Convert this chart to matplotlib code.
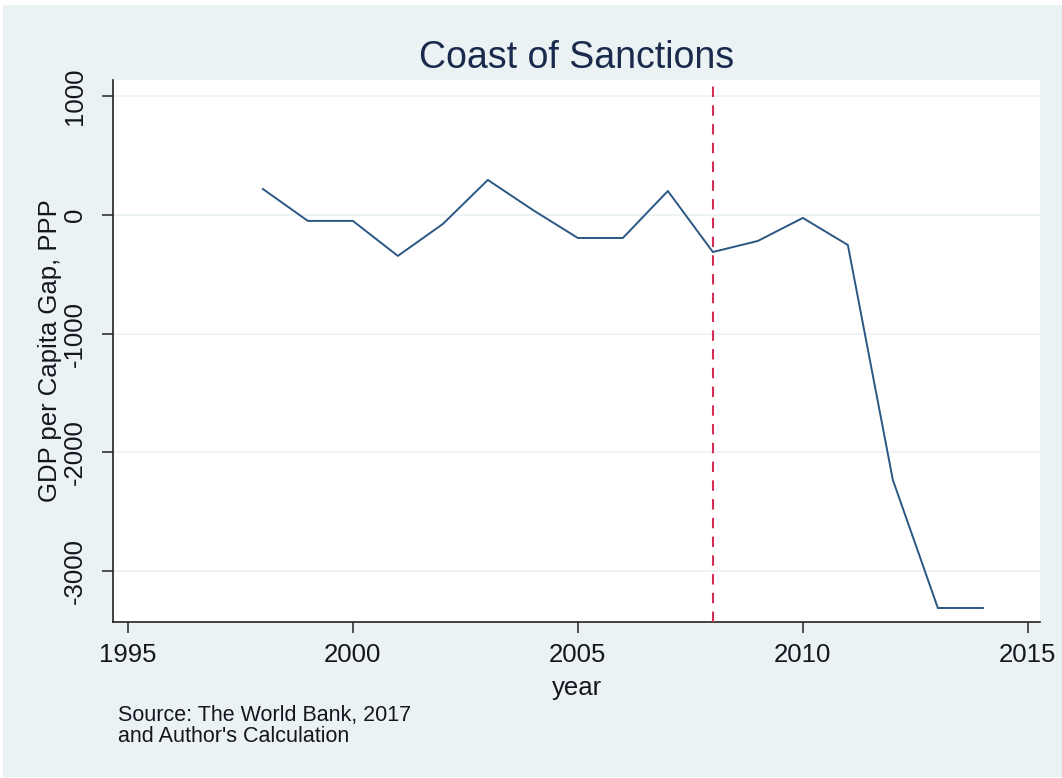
import matplotlib.pyplot as plt
from matplotlib.patches import Rectangle

years = [1998, 1999, 2000, 2001, 2002, 2003, 2004, 2005, 2006, 2007,
         2008, 2009, 2010, 2011, 2012, 2013, 2014]
gap = [219, -50, -50, -345, -76, 295, 42, -194, -194, 202,
       -312, -219, -25, -253, -2232, -3311, -3311]
sanction_year = 2008
xticks = [1995, 2000, 2005, 2010, 2015]
yticks = [1000, 0, -1000, -2000, -3000]

font = ['Liberation Sans Narrow', 'Liberation Sans', 'DejaVu Sans']
plt.rcParams['font.family'] = font
plt.rcParams['axes.unicode_minus'] = False

W, H = 1062, 778
fig = plt.figure(figsize=(W / 100, H / 100), dpi=100, facecolor='white')
# stata-like light background panel with a thin white margin
fig.patches.append(Rectangle((3 / W, 1 / H), 1 - 3 / W, 1 - 6 / H,
                             transform=fig.transFigure, facecolor='#EAF2F3',
                             edgecolor='none', zorder=-10))

ax = fig.add_axes([113 / W, 1 - 622 / H, (1040 - 113) / W, (622 - 80) / H])
ax.set_facecolor('white')

ax.plot(years, gap, color='#2A5783', linewidth=1.4, zorder=3)
ax.axvline(sanction_year, color='#D62D56', linestyle=(0, (5, 4)),
           linewidth=1.5, zorder=4)

ax.set_xlim(1994.67, 2015.27)
ax.set_ylim(-3429, 1137)
ax.set_xticks(xticks)
ax.set_yticks(yticks)
ax.grid(axis='y', color='#EAF2F3', linewidth=1.2, zorder=1)
ax.set_axisbelow(True)

for s in ['top', 'right']:
    ax.spines[s].set_visible(False)
for s in ['left', 'bottom']:
    ax.spines[s].set_color('#222222')
    ax.spines[s].set_linewidth(1.2)

ax.tick_params(axis='both', length=8, width=1.2, color='#333333',
               labelcolor='#151520', labelsize=18.5)
ax.tick_params(axis='x', pad=7)
ax.tick_params(axis='y', pad=11)
for lbl in ax.get_yticklabels():
    lbl.set_rotation(90)
    lbl.set_va('center')

ax.set_title('Coast of Sanctions', fontsize=27, color='#1A2A4C', pad=9)
ax.set_xlabel('year', fontsize=18.5, color='#151520')
ax.xaxis.set_label_coords(0.5, -0.122)
ax.set_ylabel('GDP per Capita Gap, PPP', fontsize=18.5, color='#151520')
ax.yaxis.set_label_coords(-0.068, 0.5)
ax.yaxis.label.set_va('center')
ax.xaxis.label.set_va('center')

fig.text(118 / W, 1 - 716 / H, 'Source: The World Bank, 2017',
         fontsize=15.5, va='center', ha='left', color='#151520')
fig.text(118 / W, 1 - 737 / H, "and Author's Calculation",
         fontsize=15.5, va='center', ha='left', color='#151520')

fig.savefig('out.png', dpi=100, facecolor='white')
